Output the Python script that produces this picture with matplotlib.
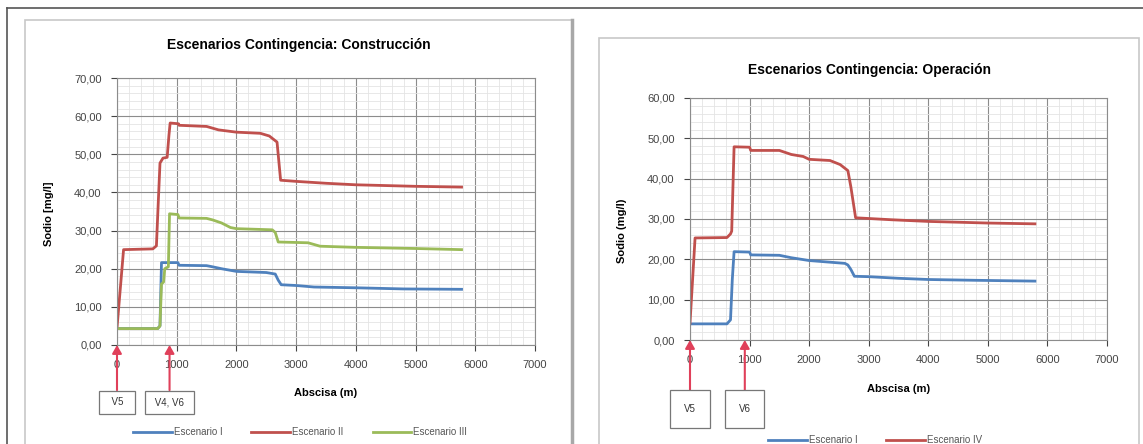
import matplotlib
matplotlib.use('Agg')
import matplotlib.pyplot as plt
from matplotlib.patches import Rectangle
from matplotlib.ticker import MultipleLocator, FuncFormatter

plt.rcParams['font.family'] = ['Liberation Sans', 'DejaVu Sans']

W, H = 1143, 444

# Escenarios contingencia: construccion
abs_c_e1 = [0, 680, 720, 745, 1020, 1040, 1500, 1600, 1750, 2000, 2500, 2650, 2700, 2750, 3000, 3300, 4000, 4800, 5770]
sod_c_e1 = [4.3, 4.3, 5.0, 21.6, 21.6, 20.9, 20.8, 20.5, 20.0, 19.3, 19.0, 18.6, 17.0, 15.8, 15.6, 15.2, 15.0, 14.7, 14.6]

abs_c_e2 = [0, 110, 600, 660, 690, 720, 770, 840, 870, 890, 1030, 1040, 1500, 1700, 2000, 2400, 2550, 2680, 2740, 3000, 3500, 4000, 5000, 5770]
sod_c_e2 = [4.5, 25.0, 25.2, 26.0, 37.0, 47.7, 49.0, 49.2, 55.0, 58.2, 58.0, 57.6, 57.3, 56.4, 55.8, 55.5, 54.8, 53.2, 43.2, 42.9, 42.4, 42.0, 41.6, 41.4]

abs_c_e3 = [0, 680, 720, 745, 780, 800, 860, 880, 1020, 1040, 1500, 1600, 1750, 1900, 2000, 2600, 2650, 2700, 3200, 3400, 4000, 5000, 5770]
sod_c_e3 = [4.3, 4.3, 5.0, 16.0, 16.5, 20.0, 20.5, 34.4, 34.2, 33.3, 33.2, 32.8, 32.0, 30.8, 30.5, 30.2, 29.5, 27.0, 26.8, 25.9, 25.6, 25.3, 25.0]

# Escenarios contingencia: operacion
abs_o_e1 = [0, 620, 680, 710, 740, 1000, 1020, 1500, 1700, 2000, 2600, 2650, 2700, 2760, 3000, 3500, 4000, 4800, 5790]
sod_o_e1 = [4.0, 4.0, 5.0, 15.0, 21.9, 21.8, 21.1, 21.0, 20.4, 19.7, 19.0, 18.6, 17.5, 15.8, 15.7, 15.3, 15.0, 14.8, 14.6]

abs_o_e2 = [0, 85, 620, 680, 700, 740, 1000, 1020, 1500, 1700, 1900, 2000, 2350, 2520, 2650, 2700, 2780, 3400, 4000, 5000, 5790]
sod_o_e2 = [4.2, 25.3, 25.4, 26.3, 27.0, 47.9, 47.8, 47.0, 47.0, 46.0, 45.5, 44.8, 44.5, 43.5, 42.0, 38.0, 30.3, 29.8, 29.4, 29.0, 28.8]

valv_c = [0, 880]
valv_c_txt = ['  V5  ', ' V4, V6 ']
valv_o = [0, 920]
valv_o_txt = ['V5', 'V6']

AZUL, ROJO, VERDE = '#4f81bd', '#c0504d', '#9bbb59'


def px(x, y):
    return x / W, 1 - y / H


def caja(fig, x0, y0, x1, y1, color, lw):
    fx, fy = px(x0, y1)
    fig.add_artist(Rectangle((fx, fy), (x1 - x0) / W, (y1 - y0) / H,
                             transform=fig.transFigure, fill=False,
                             ec=color, lw=lw))


def preparar_eje(ax, ymax, titulo_xy, titulo, ylab, ylab_y, xlab_y):
    ax.set_xlim(0, 7000)
    ax.set_ylim(0, ymax)
    ax.xaxis.set_major_locator(MultipleLocator(1000))
    ax.xaxis.set_minor_locator(MultipleLocator(200))
    ax.yaxis.set_major_locator(MultipleLocator(10))
    ax.yaxis.set_minor_locator(MultipleLocator(2))
    ax.yaxis.set_major_formatter(FuncFormatter(lambda v, p: f'{v:.2f}'.replace('.', ',')))
    ax.grid(which='major', color='#8c8c8c', lw=0.8)
    ax.grid(which='minor', color='#e4e4e4', lw=0.6)
    ax.set_axisbelow(True)
    ax.tick_params(which='minor', length=0)
    ax.tick_params(which='major', labelsize=8, colors='#444', length=4, width=0.8)
    ax.tick_params(axis='x', pad=7)
    ax.tick_params(axis='y', pad=7)
    for s in ax.spines.values():
        s.set_color('#8c8c8c')
        s.set_linewidth(0.8)
    ax.set_ylabel(ylab, fontsize=8, fontweight='bold')
    ax.yaxis.set_label_coords(-0.15, ylab_y)
    ax.set_xlabel('Abscisa (m)', fontsize=8, fontweight='bold')
    ax.xaxis.set_label_coords(0.5, xlab_y)
    fx, fy = px(*titulo_xy)
    ax.figure.text(fx, fy, titulo, ha='center', va='center', fontsize=10, fontweight='bold')


def valvulas(ax, xs, textos, y_caja, pad):
    for xv, t in zip(xs, textos):
        ax.annotate(t, xy=(xv, 0), xycoords='data',
                    xytext=(xv, y_caja), textcoords=('data', 'axes fraction'),
                    ha='center', va='center', fontsize=7, color='#333',
                    bbox=dict(boxstyle=f'square,pad={pad}', fc='white', ec='#777', lw=0.9),
                    arrowprops=dict(arrowstyle='-|>,head_length=0.7,head_width=0.4',
                                    color='#e0405a', lw=1.5, shrinkA=0, shrinkB=0),
                    annotation_clip=False)


fig = plt.figure(figsize=(W / 100, H / 100), dpi=100)

# marcos
fig.add_artist(plt.Line2D([7 / W, 1], [1 - 8 / H, 1 - 8 / H], transform=fig.transFigure, color='#555', lw=1.2))
fig.add_artist(plt.Line2D([7 / W, 7 / W], [0, 1 - 8 / H], transform=fig.transFigure, color='#555', lw=1.2))
caja(fig, 25, 20, 572, 460, '#c8c8c8', 1.2)
fig.add_artist(plt.Line2D([572 / W, 572 / W], [0, 1 - 20 / H], transform=fig.transFigure, color='#a8a8a8', lw=2.5))
caja(fig, 599, 38, 1139, 460, '#c8c8c8', 1.2)

# construccion
ax1 = fig.add_axes([117 / W, 1 - 345 / H, 418 / W, 267 / H])
ax1.plot(abs_c_e1, sod_c_e1, color=AZUL, lw=2, label='Escenario I')
ax1.plot(abs_c_e2, sod_c_e2, color=ROJO, lw=2, label='Escenario II')
ax1.plot(abs_c_e3, sod_c_e3, color=VERDE, lw=2, label='Escenario III')
preparar_eje(ax1, 70, (299, 45), 'Escenarios Contingencia: Construcción',
             'Sodio [mg/l]', 0.49, -0.16)
valvulas(ax1, valv_c, valv_c_txt, -0.215, 0.7)
ax1.legend(loc='center', bbox_to_anchor=px(300, 432), bbox_transform=fig.transFigure,
           ncol=3, frameon=False, fontsize=7, handlelength=4, handletextpad=0.2,
           columnspacing=3, labelcolor='#555')

# operacion
ax2 = fig.add_axes([690 / W, 1 - 340 / H, 417 / W, 242 / H])
ax2.plot(abs_o_e1, sod_o_e1, color=AZUL, lw=2, label='Escenario I')
ax2.plot(abs_o_e2, sod_o_e2, color=ROJO, lw=2, label='Escenario IV')
preparar_eje(ax2, 60, (869, 70), 'Escenarios Contingencia: Operación',
             'Sodio (mg/l)', 0.45, -0.18)
valvulas(ax2, valv_o, valv_o_txt, -0.285, 1.4)
ax2.legend(loc='center', bbox_to_anchor=px(875, 440), bbox_transform=fig.transFigure,
           ncol=2, frameon=False, fontsize=7, handlelength=4, handletextpad=0.2,
           columnspacing=3, labelcolor='#555')

fig.savefig('out.png', dpi=100, facecolor='white')
